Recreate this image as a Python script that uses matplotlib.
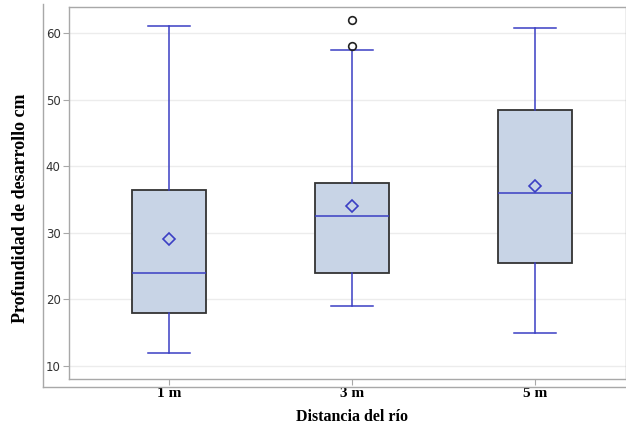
import numpy as np
import matplotlib
matplotlib.use('Agg')
from matplotlib import pyplot as plt
from matplotlib.lines import Line2D

# datos
distancias = ['1 m', '3 m', '5 m']
bigote_inf = [12.0, 19.0, 15.0]
q1 = [18.0, 24.0, 25.5]
mediana = [24.0, 32.5, 36.0]
q3 = [36.5, 37.5, 48.5]
bigote_sup = [61.0, 57.5, 60.7]
media = [29.0, 34.0, 37.0]
atipicos = [[], [58.0, 62.0], []]

y_ticks = [10, 20, 30, 40, 50, 60]

azul = '#3b3fc4'
relleno = '#c8d4e6'
gris = '#a8a8a8'

stats = []
for i in range(len(distancias)):
    stats.append({'label': distancias[i], 'whislo': bigote_inf[i], 'q1': q1[i],
                  'med': mediana[i], 'q3': q3[i], 'whishi': bigote_sup[i],
                  'mean': media[i], 'fliers': atipicos[i]})

fig = plt.figure(figsize=(6.26, 4.28), dpi=100)
ax = fig.add_axes([69/626, 49/428, 557/626, 372/428])

pos = [1, 2, 3]
ax.bxp(stats, positions=pos, widths=0.4, capwidths=0.23, showmeans=True,
       patch_artist=True, zorder=3,
       boxprops=dict(facecolor=relleno, edgecolor='#333333', linewidth=1.3),
       medianprops=dict(color=azul, linewidth=1.1),
       whiskerprops=dict(color=azul, linewidth=1.1),
       capprops=dict(color=azul, linewidth=1.1),
       meanprops=dict(marker='D', markerfacecolor='none', markeredgecolor=azul,
                      markersize=6, markeredgewidth=1.2),
       flierprops=dict(marker='o', markerfacecolor='none', markeredgecolor='#222222',
                       markersize=5.5, markeredgewidth=1.2))

ax.set_xlim(0.454, 3.497)
ax.set_ylim(8.05, 63.9)

for t in y_ticks:
    ax.axhline(t, color='#ececec', linewidth=1.0, zorder=0)

for s in ax.spines.values():
    s.set_color(gris)
    s.set_linewidth(1.0)

# borde exterior
fig.add_artist(Line2D([43/626, 43/626], [1 - 4/428, 1 - 387/428], color=gris, linewidth=1.0))
fig.add_artist(Line2D([43/626, 1], [1 - 387/428, 1 - 387/428], color=gris, linewidth=1.0))

ax.set_yticks(y_ticks)
ax.tick_params(axis='y', labelsize=8.5, colors=gris, labelcolor='#333333', length=4, pad=2)
ax.tick_params(axis='x', colors=gris, labelcolor='black', length=4, pad=2)
ax.set_xticks(pos)
ax.set_xticklabels(distancias, fontfamily='Liberation Serif', fontweight='bold', fontsize=11)

fig.text(352/626, 1 - 417/428, 'Distancia del río', ha='center', va='center',
         fontfamily='Liberation Serif', fontweight='bold', fontsize=11.5)
fig.text(21/626, 1 - 208/428, 'Profundidad de desarrollo cm', ha='center', va='center',
         rotation=90, fontfamily='Liberation Serif', fontweight='bold', fontsize=13)

fig.savefig('out.png', dpi=100)
